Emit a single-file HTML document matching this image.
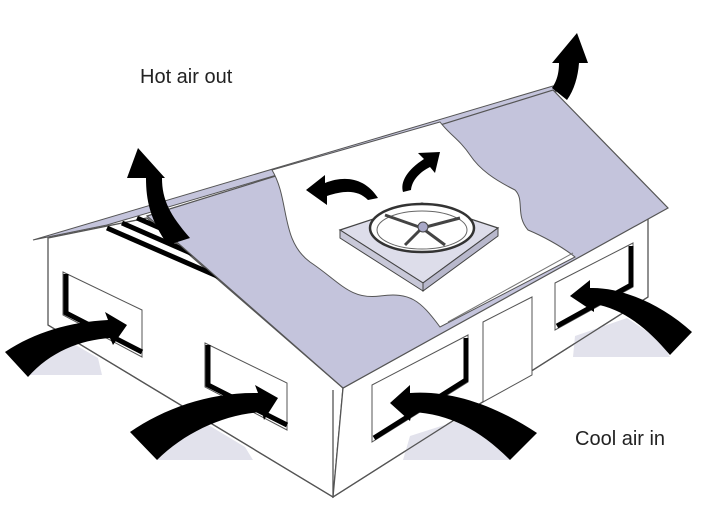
<!DOCTYPE html>
<html><head><meta charset="utf-8"><style>
html,body{margin:0;padding:0;background:#fff;width:727px;height:508px;overflow:hidden}
svg{display:block}
text{font-family:"Liberation Sans",sans-serif;fill:#222}
</style></head><body>
<svg width="727" height="508" viewBox="0 0 727 508" xmlns="http://www.w3.org/2000/svg">
<!-- walls -->
<g fill="#fff" stroke="#555" stroke-width="1.3">
<polygon points="48,238 147,218 343,388 333,497 48,325"/>
<polygon points="343,388 648,218 648,297 333,497"/>
</g>
<!-- shadows -->
<g fill="#e2e2ec">
<polygon points="28,375 102,375 98,358 60,336"/>
<polygon points="157,460 253,460 245,447 200,420"/>
<polygon points="403,460 510,460 500,448 460,420 410,436"/>
<polygon points="573,357 670,357 660,340 627,318 575,336"/>
</g>
<line x1="48" y1="325" x2="333" y2="497" stroke="#555" stroke-width="1.3"/>
<line x1="333" y1="497" x2="648" y2="297" stroke="#555" stroke-width="1.3"/>
<line x1="333" y1="390" x2="333" y2="497" stroke="#555" stroke-width="1.3"/>
<!-- gable vent stripes -->
<g stroke="#000" stroke-width="5" fill="none">
<line x1="107" y1="228" x2="233" y2="283"/>
<line x1="122" y1="223" x2="225" y2="268"/>
<line x1="137" y1="218" x2="215" y2="252"/>
</g>
<!-- gable band -->
<polygon points="33,240 553,86 556,92 260,180 107,225" fill="#c4c4dc" stroke="#555" stroke-width="1"/>
<!-- front roof -->
<polygon points="147,216 553,90 668,208 343,388" fill="#c4c4dc" stroke="#555" stroke-width="1.2"/>
<!-- cutout -->
<path d="M272,170 C290,200 280,240 310,262 C340,282 350,300 380,296 C410,292 420,300 440,327 L575,257 C560,245 540,235 528,230 C515,215 525,200 515,190 C495,180 480,170 470,155 C460,140 450,135 440,122 Z" fill="#fff" stroke="#555" stroke-width="1"/>
<line x1="448" y1="322" x2="573" y2="253" stroke="#777" stroke-width="1"/>
<!-- fan -->
<polygon points="340,230 422,203 498,228 423,283" fill="#ddddea" stroke="#444" stroke-width="1.2"/>
<polygon points="340,230 423,283 423,291 340,238" fill="#c8c8d8" stroke="#444" stroke-width="1"/>
<polygon points="423,283 498,228 498,236 423,291" fill="#b8b8cc" stroke="#444" stroke-width="1"/>
<ellipse cx="422" cy="228" rx="52" ry="24" fill="#fff" stroke="#333" stroke-width="2.5"/>
<ellipse cx="422" cy="230" rx="45" ry="19" fill="none" stroke="#666" stroke-width="1"/>
<g stroke="#444" stroke-width="3"><line x1="422" y1="228" x2="385" y2="215"/><line x1="422" y1="228" x2="460" y2="218"/><line x1="422" y1="228" x2="405" y2="245"/><line x1="422" y1="228" x2="445" y2="245"/></g>
<circle cx="423" cy="227" r="5" fill="#a8a8c8" stroke="#444"/>
<!-- windows -->
<g fill="#fff" stroke="#555" stroke-width="1">
<polygon points="63,272 142,310 142,357 63,315"/>
<polygon points="205,343 287,383 287,430 205,387"/>
<polygon points="372,385 468,335 468,382 372,442"/>
<polygon points="555,283 633,243 633,287 555,330"/>
<polygon points="483,322 532,297 532,375 483,402"/>
</g>
<g fill="none" stroke="#000" stroke-width="5">
<polyline points="66,274 66,313 142,352"/>
<polyline points="208,345 208,385 287,425"/>
<polyline points="466,338 466,380 374,438"/>
<polyline points="631,246 631,285 557,326"/>
</g>
<!-- arrows -->
<g fill="#000">
<path d="M138,148 L127,178 L146,178 C146,200 150,220 168,245 L190,238 C170,215 162,200 162,178 L165,178 Z"/>
<path d="M577,33 L552,63 L559,63 C559,75 556,82 552,88 L567,100 C574,90 578,77 579,63 L588,63 Z"/>
<path d="M306,190 L325,175 L325,183 C345,175 365,178 378,198 L368,200 C358,190 345,190 327,196 L327,205 Z"/>
<path d="M440,152 L418,153 L424,159 C407,170 400,182 403,192 L411,190 C412,180 420,172 430,167 L435,173 Z"/>
<path d="M127,325 L105,312 L108,320 C70,322 35,332 5,352 L28,377 C50,352 80,340 110,338 L113,345 Z"/>
<path d="M278,398 L255,385 L258,393 C210,392 165,408 130,432 L157,460 C185,432 225,414 262,412 L264,420 Z"/>
<path d="M390,403 L410,385 L410,393 C450,390 495,405 537,433 L510,460 C480,430 450,414 412,412 L410,421 Z"/>
<path d="M570,296 L590,280 L590,288 C620,287 660,303 692,332 L670,355 C645,325 620,308 594,304 L594,312 Z"/>
</g>
<text x="140" y="83" font-size="20">Hot air out</text>
<text x="575" y="445" font-size="20">Cool air in</text>
</svg>
</body></html>
